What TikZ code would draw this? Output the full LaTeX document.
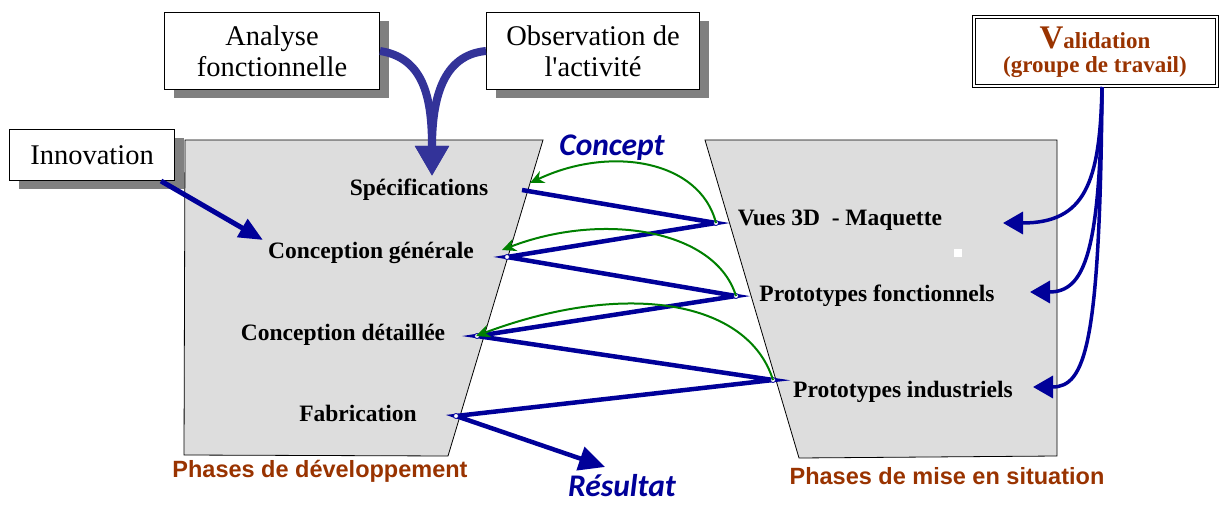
\documentclass[tikz,border=0pt]{standalone}
\usepackage{fontspec}
\setmainfont{Liberation Serif}
\newfontfamily\arialfont{Liberation Sans}
\newfontfamily\carlitofont{Carlito}
\usetikzlibrary{positioning, arrows.meta, shadows}

\definecolor{navy}{RGB}{0,0,153}
\definecolor{slate}{RGB}{51,51,153}
\definecolor{brick}{RGB}{153,51,0}
\definecolor{leaf}{RGB}{0,128,0}
\definecolor{panel}{RGB}{221,221,221}

\begin{document}
\begin{tikzpicture}[
		x=1pt, y=-1pt,
		every box/.style={draw, fill=white, line width=1pt, align=center, inner sep=0pt,
			font=\fontsize{28.5}{31}\selectfont,
			drop shadow={shadow xshift=9pt, shadow yshift=-9pt, fill=black!50, opacity=1}},
		every phase/.style={font=\bfseries\fontsize{23.5}{25}\selectfont},
		every title/.style={text=brick, font=\arialfont\bfseries\fontsize{23.5}{25}\selectfont},
		every keyword/.style={text=navy, inner sep=1pt, font=\carlitofont\bfseries\itshape\fontsize{31.5}{33}\selectfont},
		zigzag/.style={navy, line width=4.5pt, line join=miter},
		feedback/.style={leaf, line width=2pt, -{Stealth[length=14pt, width=13pt]}},
		>=stealth
	]

	\useasboundingbox (0,0) rectangle (1220,505);

	% the two phase panels
	\draw [fill=panel, line width=0.8pt] (185,140) -- (543,140) -- (448,456) -- (184,455) -- cycle;
	\draw [fill=panel, line width=0.8pt] (705,140) -- (1057,140) -- (1057,456) -- (799,458) -- cycle;
	\fill [white] (954,249) rectangle (962,257);

	% input boxes
	\node [every box, minimum width=215pt, minimum height=77pt] (analyse) at (272,51) {Analyse\\fonctionnelle};
	\node [every box, minimum width=213pt, minimum height=77pt] (observation) at (593,51) {Observation de\\l\textquotesingle activit\'e};
	\node [every box, minimum width=165pt, minimum height=51pt] (innovation) at (92,155) {Innovation};
	\node [draw, double, double distance=2pt, line width=1pt, fill=white, minimum width=243pt, minimum height=69pt,
		inner sep=0pt, text=brick, align=center, font=\bfseries\fontsize{23}{24}\selectfont] (validation) at (1095,52)
		{{\fontsize{33}{33}\selectfont V}alidation\\(groupe de travail)};

	% phase labels
	\foreach \m/\l/\x/\y in {1/Sp\'ecifications/419/190, 2/Conception g\'en\'erale/371/253,
			3/Conception d\'etaill\'ee/343/335, 4/Fabrication/358/413}
		\node [every phase] (dev-\m) at (\x,\y) {\l};

	\foreach \m/\l/\x/\y in {1/Vues 3D\ \ - Maquette/840/220, 2/Prototypes fonctionnels/877/296,
			3/Prototypes industriels/903/392}
		\node [every phase] (sit-\m) at (\x,\y) {\l};

	\node [every title] (title-dev) at (320,471) {Phases de d\'eveloppement};
	\node [every title] (title-sit) at (947,476) {Phases de mise en situation};
	\node [every keyword] (concept) at (612,148) {Concept};
	\node [every keyword] (resultat) at (622,486) {R\'esultat};

	% zigzag corners
	\foreach \i/\x/\y in {1/522/190, 2/507/257, 3/477/336, 4/456/416}
		\coordinate (left-\i) at (\x,\y);
	\foreach \i/\x/\y in {1/716/223, 2/736/296, 3/773/380}
		\coordinate (right-\i) at (\x,\y);
	\foreach \i/\x/\y in {1/530/183, 2/502/250, 3/476/336}
		\coordinate (back-\i) at (\x,\y);
	\coordinate (result-in) at (605,467);
	\coordinate (spec-in) at (432,176);
	\coordinate (gen-in) at (263,240);
	\coordinate (valid-out) at ([xshift=7pt]validation.south);

	\draw [zigzag, -{Triangle[length=26pt, width=24pt]}]
		(left-1) -- (right-1) -- (left-2) -- (right-2) -- (left-3) -- (right-3) -- (left-4) -- (result-in);

	\foreach \i in {2, 3, 4}
		\draw [navy, fill=white, line width=0.8pt] (left-\i) circle (2.5pt);
	\foreach \i in {1, 2, 3}
		\draw [navy, fill=white, line width=0.8pt] (right-\i) circle (2.5pt);

	% feedback from the mock-ups
	\draw [feedback] (right-1) .. controls (700,160) and (610,145) .. (back-1);
	\draw [feedback] (right-2) .. controls (715,228) and (600,212) .. (back-2);
	\draw [feedback] (right-3) .. controls (748,300) and (625,280) .. (back-3);

	% inputs
	\draw [slate, line width=8pt, -{Triangle[length=30pt, width=32pt]}]
		(analyse.east) .. controls (425,58) and (432,100) .. (spec-in);
	\draw [slate, line width=8pt, -{Triangle[length=30pt, width=32pt]}]
		(observation.west) .. controls (442,55) and (432,100) .. (spec-in);
	\draw [navy, line width=5pt, -{Triangle[length=24pt, width=20pt]}]
		([xshift=-14pt]innovation.south east) -- (gen-in);

	% validation
	\foreach \x/\y [count=\i] in {1003/223, 1030/292, 1033/387}
		\draw [navy, line width=3.5pt, -{Triangle[length=20pt, width=22pt]}]
			(valid-out) .. controls (1100,\y-40) and (1085,\y) .. (\x,\y);
\end{tikzpicture}
\end{document}
